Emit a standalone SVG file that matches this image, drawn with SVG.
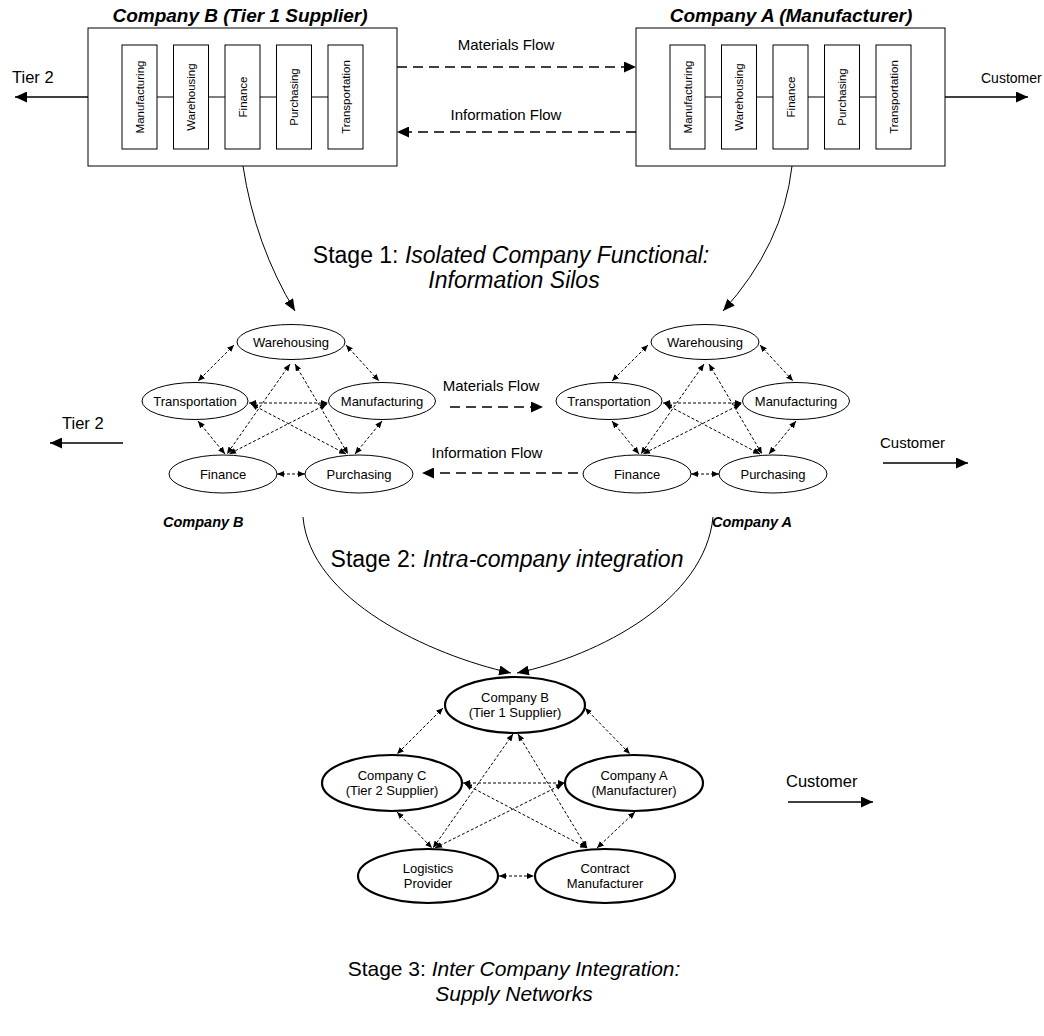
<svg xmlns="http://www.w3.org/2000/svg" width="1044" height="1036" viewBox="0 0 1044 1036">
  <style>
    text { font-family: "Liberation Sans", Arial, sans-serif; fill: #000; }
    .title { font-size: 19px; font-weight: bold; font-style: italic; text-anchor: middle; }
    .co { font-size: 14.5px; font-weight: bold; font-style: italic; }
    .fn { font-size: 11.5px; text-anchor: middle; }
    .nd { font-size: 13px; text-anchor: middle; }
    .lbl { font-size: 15px; text-anchor: middle; }
    .end { font-size: 16.5px; }
    .stage { font-size: 23px; text-anchor: middle; }
    .it { font-style: italic; }
    .box { fill: #fff; stroke: #000; stroke-width: 1; }
    .fbox { fill: #fff; stroke: #000; stroke-width: 1; }
    .ell { fill: #fff; stroke: #000; stroke-width: 1; }
    .ell2 { fill: #fff; stroke: #000; stroke-width: 2.2; }
    .link { stroke: #000; stroke-width: 1.2; fill: none; }
    .solid { stroke: #000; stroke-width: 1.3; fill: none; marker-end: url(#head-lg); }
    .flow { stroke: #000; stroke-width: 1.3; fill: none; stroke-dasharray: 10 6; marker-end: url(#head-lg); }
    .curve { stroke: #000; stroke-width: 1; fill: none; marker-end: url(#head-cv); }
    .dd { stroke: #000; stroke-width: 1; fill: none; stroke-dasharray: 3 2; marker-start: url(#head-sm); marker-end: url(#head-sm); }
  </style>
  <defs>
    <marker id="head-lg" markerUnits="userSpaceOnUse" markerWidth="12" markerHeight="11" refX="12" refY="5.5" orient="auto">
      <path d="M0,0 L12,5.5 L0,11 z" fill="#000"/>
    </marker>
    <marker id="head-cv" markerUnits="userSpaceOnUse" markerWidth="12" markerHeight="10" refX="12" refY="5" orient="auto">
      <path d="M0,0 L12,5 L0,10 z" fill="#000"/>
    </marker>
    <marker id="head-sm" markerUnits="userSpaceOnUse" markerWidth="7" markerHeight="6" refX="7" refY="3" orient="auto-start-reverse">
      <path d="M0,0 L7,3 L0,6 z" fill="#000"/>
    </marker>
  </defs>

  <rect width="1044" height="1036" fill="#fff"/>

  <!-- Stage 1: functional silos inside each company -->
  <g id="silo-company-b">
    <text class="title" x="240" y="22">Company B (Tier 1 Supplier)</text>
    <rect class="box" x="88" y="28" width="309" height="138"/>
    <line class="link" x1="157" y1="97" x2="328" y2="97"/>
    <rect class="fbox" x="122" y="45" width="35" height="104"/>
    <rect class="fbox" x="173.5" y="45" width="35" height="104"/>
    <rect class="fbox" x="225" y="45" width="35" height="104"/>
    <rect class="fbox" x="276.5" y="45" width="35" height="104"/>
    <rect class="fbox" x="328" y="45" width="35" height="104"/>
    <text class="fn" transform="translate(139.5,97) rotate(-90)" y="4">Manufacturing</text>
    <text class="fn" transform="translate(191,97) rotate(-90)" y="4">Warehousing</text>
    <text class="fn" transform="translate(242.5,97) rotate(-90)" y="4">Finance</text>
    <text class="fn" transform="translate(294,97) rotate(-90)" y="4">Purchasing</text>
    <text class="fn" transform="translate(345.5,97) rotate(-90)" y="4">Transportation</text>
  </g>

  <g id="silo-company-a">
    <text class="title" x="791" y="22">Company A (Manufacturer)</text>
    <rect class="box" x="636" y="28" width="309" height="138"/>
    <line class="link" x1="705" y1="97" x2="876" y2="97"/>
    <rect class="fbox" x="670" y="45" width="35" height="104"/>
    <rect class="fbox" x="721.5" y="45" width="35" height="104"/>
    <rect class="fbox" x="773" y="45" width="35" height="104"/>
    <rect class="fbox" x="824.5" y="45" width="35" height="104"/>
    <rect class="fbox" x="876" y="45" width="35" height="104"/>
    <text class="fn" transform="translate(687.5,97) rotate(-90)" y="4">Manufacturing</text>
    <text class="fn" transform="translate(739,97) rotate(-90)" y="4">Warehousing</text>
    <text class="fn" transform="translate(790.5,97) rotate(-90)" y="4">Finance</text>
    <text class="fn" transform="translate(842,97) rotate(-90)" y="4">Purchasing</text>
    <text class="fn" transform="translate(893.5,97) rotate(-90)" y="4">Transportation</text>
  </g>

  <!-- Stage 2: integrated functions, Company B -->
  <g id="b-warehousing"><ellipse class="ell" cx="291" cy="342" rx="54" ry="17.5"/><text class="nd" x="291" y="346.5">Warehousing</text></g>
  <g id="b-transportation"><ellipse class="ell" cx="195" cy="401" rx="53" ry="18.5"/><text class="nd" x="195" y="405.5">Transportation</text></g>
  <g id="b-manufacturing"><ellipse class="ell" cx="382" cy="401" rx="53.5" ry="18.5"/><text class="nd" x="382" y="405.5">Manufacturing</text></g>
  <g id="b-finance"><ellipse class="ell" cx="223" cy="474" rx="54" ry="19"/><text class="nd" x="223" y="478.5">Finance</text></g>
  <g id="b-purchasing"><ellipse class="ell" cx="359" cy="474" rx="54" ry="19"/><text class="nd" x="359" y="478.5">Purchasing</text></g>

  <!-- Stage 2: integrated functions, Company A -->
  <g id="a-warehousing"><ellipse class="ell" cx="705" cy="342" rx="54" ry="17.5"/><text class="nd" x="705" y="346.5">Warehousing</text></g>
  <g id="a-transportation"><ellipse class="ell" cx="609" cy="401" rx="53" ry="18.5"/><text class="nd" x="609" y="405.5">Transportation</text></g>
  <g id="a-manufacturing"><ellipse class="ell" cx="796" cy="401" rx="53.5" ry="18.5"/><text class="nd" x="796" y="405.5">Manufacturing</text></g>
  <g id="a-finance"><ellipse class="ell" cx="637" cy="474" rx="54" ry="19"/><text class="nd" x="637" y="478.5">Finance</text></g>
  <g id="a-purchasing"><ellipse class="ell" cx="773" cy="474" rx="54" ry="19"/><text class="nd" x="773" y="478.5">Purchasing</text></g>

  <!-- Stage 3: supply network -->
  <g id="net-company-b"><ellipse class="ell2" cx="515" cy="705" rx="70" ry="28"/><text class="nd" x="515" y="702">Company B</text><text class="nd" x="515" y="717">(Tier 1 Supplier)</text></g>
  <g id="net-company-c"><ellipse class="ell2" cx="392" cy="783" rx="70" ry="28"/><text class="nd" x="392" y="780">Company C</text><text class="nd" x="392" y="795">(Tier 2 Supplier)</text></g>
  <g id="net-company-a"><ellipse class="ell2" cx="634" cy="783" rx="69" ry="28"/><text class="nd" x="634" y="780">Company A</text><text class="nd" x="634" y="795">(Manufacturer)</text></g>
  <g id="net-logistics"><ellipse class="ell2" cx="428" cy="876" rx="70" ry="27"/><text class="nd" x="428" y="873">Logistics</text><text class="nd" x="428" y="888">Provider</text></g>
  <g id="net-contract"><ellipse class="ell2" cx="605" cy="876" rx="70" ry="27"/><text class="nd" x="605" y="873">Contract</text><text class="nd" x="605" y="888">Manufacturer</text></g>

  <g id="connectors">
    <!-- top row -->
    <line class="solid" x1="88" y1="97" x2="15" y2="97"/>
    <line class="solid" x1="945" y1="97" x2="1028" y2="97"/>
    <line class="flow" x1="397" y1="67" x2="636" y2="67"/>
    <line class="flow" x1="636" y1="132" x2="397" y2="132"/>
    <path class="curve" d="M243,166 Q255,245 295,311"/>
    <path class="curve" d="M792,166 Q783,245 723,311"/>

    <!-- middle row -->
    <line class="solid" x1="123" y1="443" x2="50" y2="443"/>
    <line class="solid" x1="883" y1="463" x2="968" y2="463"/>
    <line class="flow" x1="450" y1="407" x2="543" y2="407"/>
    <line class="flow" x1="578" y1="473" x2="422" y2="473"/>
    <path class="curve" d="M303,517 C310,600 430,655 511,673"/>
    <path class="curve" d="M713,517 C705,600 600,655 517,673"/>

    <!-- Company B function links -->
    <line class="dd" x1="234" y1="345" x2="198" y2="381"/>
    <line class="dd" x1="346" y1="345" x2="379" y2="381"/>
    <line class="dd" x1="198" y1="421" x2="225" y2="454"/>
    <line class="dd" x1="382" y1="421" x2="355" y2="454"/>
    <line class="dd" x1="277" y1="474" x2="305" y2="474"/>
    <line class="dd" x1="249" y1="403" x2="328" y2="403"/>
    <line class="dd" x1="290" y1="364" x2="227" y2="454"/>
    <line class="dd" x1="295" y1="364" x2="348" y2="454"/>
    <line class="dd" x1="251" y1="404" x2="346" y2="454"/>
    <line class="dd" x1="327" y1="404" x2="229" y2="454"/>

    <!-- Company A function links -->
    <line class="dd" x1="648" y1="345" x2="612" y2="381"/>
    <line class="dd" x1="760" y1="345" x2="793" y2="381"/>
    <line class="dd" x1="612" y1="421" x2="639" y2="454"/>
    <line class="dd" x1="796" y1="421" x2="769" y2="454"/>
    <line class="dd" x1="691" y1="474" x2="719" y2="474"/>
    <line class="dd" x1="663" y1="403" x2="742" y2="403"/>
    <line class="dd" x1="704" y1="364" x2="641" y2="454"/>
    <line class="dd" x1="709" y1="364" x2="762" y2="454"/>
    <line class="dd" x1="665" y1="404" x2="760" y2="454"/>
    <line class="dd" x1="741" y1="404" x2="643" y2="454"/>

    <!-- network links -->
    <line class="dd" x1="443" y1="708" x2="397" y2="754"/>
    <line class="dd" x1="585" y1="708" x2="630" y2="754"/>
    <line class="dd" x1="463" y1="783" x2="565" y2="783"/>
    <line class="dd" x1="513" y1="734" x2="433" y2="848"/>
    <line class="dd" x1="518" y1="734" x2="587" y2="848"/>
    <line class="dd" x1="465" y1="784" x2="587" y2="848"/>
    <line class="dd" x1="563" y1="784" x2="435" y2="848"/>
    <line class="dd" x1="397" y1="812" x2="432" y2="848"/>
    <line class="dd" x1="635" y1="812" x2="597" y2="848"/>
    <line class="dd" x1="499" y1="876" x2="534" y2="876"/>

    <line class="solid" x1="788" y1="802" x2="873" y2="802"/>
  </g>

  <!-- labels -->
  <text class="end" x="12" y="83">Tier 2</text>
  <text class="end" x="981" y="83" style="font-size:14px">Customer</text>
  <text class="lbl" x="506" y="50">Materials Flow</text>
  <text class="lbl" x="506" y="120">Information Flow</text>
  <text class="stage" x="511" y="263">Stage 1: <tspan class="it">Isolated Company Functional:</tspan></text>
  <text class="stage it" x="514" y="288">Information Silos</text>

  <text class="end" x="62" y="429">Tier 2</text>
  <text class="end" x="880" y="448" style="font-size:15px">Customer</text>
  <text class="lbl" x="491" y="391">Materials Flow</text>
  <text class="lbl" x="487" y="458">Information Flow</text>
  <text class="co" x="163" y="527">Company B</text>
  <text class="co" x="712" y="527">Company A</text>
  <text class="stage" x="507" y="567">Stage 2: <tspan class="it">Intra-company integration</tspan></text>

  <text class="end" x="786" y="787">Customer</text>
  <text class="stage" x="514" y="976" style="font-size:21px">Stage 3: <tspan class="it">Inter Company Integration:</tspan></text>
  <text class="stage it" x="514" y="1001" style="font-size:21px">Supply Networks</text>
</svg>
